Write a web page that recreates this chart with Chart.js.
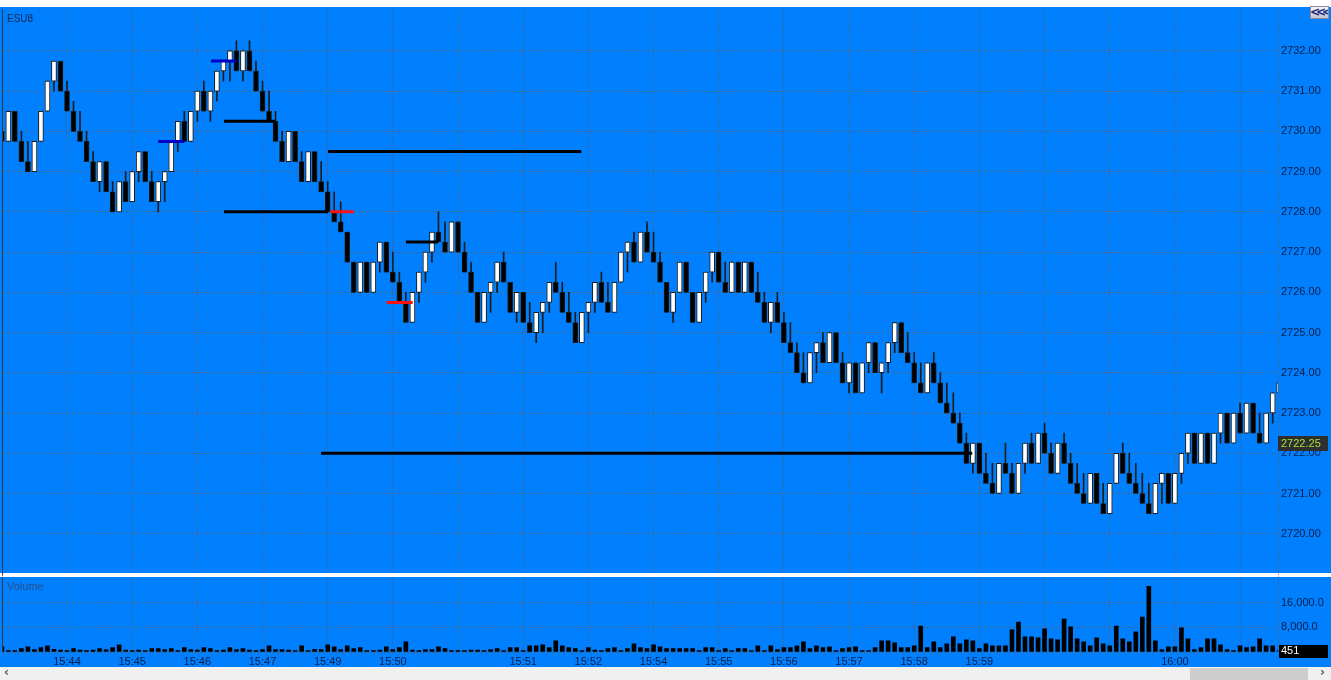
<!DOCTYPE html>
<html>
<head>
<meta charset="utf-8">
<script src="https://cdn.jsdelivr.net/npm/chart.js@4.4.0/dist/chart.umd.min.js"></script>
<style>
  html, body { margin: 0; padding: 0; background: #fff; }
  #wrap { position: relative; width: 1331px; height: 680px; overflow: hidden; }
  #chart { position: absolute; left: 0; top: 0; }
  #btn { position: absolute; left: 1310px; top: 6px; width: 19px; height: 13px; box-sizing: border-box;
         background: linear-gradient(#f6f6fa, #c4c4d2); border: 1px solid #8a8aa2; overflow: hidden;
         font: bold 12px/10px "DejaVu Sans", sans-serif; color: #1b2c7a; letter-spacing: -4px; text-indent: -1px; text-align: center; }
  #bar { position: absolute; left: 0; top: 667px; width: 1331px; height: 13px; background: #f0f0f0; }
  #thumb { position: absolute; left: 1190px; top: 1px; width: 118px; height: 12px; background: #cdcdcd; }
  .arr { position: absolute; top: -1px; font: bold 12px/13px "DejaVu Sans", sans-serif; color: #555; }
</style>
</head>
<body>
<div id="wrap">
  <canvas id="chart" width="1331" height="680"></canvas>
  <div id="btn">&lt;&lt;&lt;</div>
  <div id="bar"><span class="arr" style="left:4px">&lsaquo;</span><div id="thumb"></div><span class="arr" style="left:1320px">&rsaquo;</span></div>
</div>
<script>
/* ===== DATA ===== */
const symbol = "ESU8";
const lastPrice = 2722.25;
const lastVolume = 451;

const opens = [
  2730, 2729.75, 2730.5, 2729.75, 2729.25, 2729, 2729.75, 2730.5, 2731.25, 2731.75,
  2731, 2730.5, 2730, 2729.75, 2729.25, 2728.75, 2729.25, 2728.5, 2728, 2728.75,
  2728.25, 2729, 2729.5, 2728.75, 2728.25, 2728.75, 2729, 2729.75, 2730.25, 2729.75,
  2730.5, 2731, 2730.5, 2731, 2731.5, 2731.75, 2732, 2731.5, 2732, 2731.5,
  2731, 2730.5, 2730.25, 2729.75, 2729.25, 2730, 2729.25, 2728.75, 2729.5, 2728.75,
  2728.5, 2728, 2727.75, 2727.5, 2726.75, 2726, 2726.75, 2726, 2726.75, 2727.25,
  2726.5, 2726.25, 2725.75, 2725.25, 2726, 2726.5, 2727, 2727.5, 2727.25, 2727,
  2727.75, 2727, 2726.5, 2726, 2725.25, 2726, 2726.25, 2726.75, 2726.25, 2725.5,
  2726, 2725.25, 2725, 2725.5, 2725.75, 2726.25, 2726, 2725.5, 2725.25, 2724.75,
  2725.5, 2725.75, 2726.25, 2725.75, 2725.5, 2726.25, 2727, 2727.25, 2726.75, 2727.5,
  2727, 2726.75, 2726.25, 2725.5, 2726, 2726.75, 2726, 2725.25, 2726, 2726.5,
  2727, 2726.25, 2726, 2726.75, 2726, 2726.75, 2726, 2725.75, 2725.25, 2725.75,
  2725.25, 2724.75, 2724.5, 2724, 2723.75, 2724.5, 2724.75, 2724.25, 2725, 2724.25,
  2723.75, 2724.25, 2723.5, 2724.25, 2724.75, 2724, 2724.25, 2724.75, 2725.25, 2724.5,
  2724.25, 2723.75, 2723.5, 2724.25, 2723.75, 2723.25, 2723, 2722.75, 2722.25, 2721.75,
  2722.25, 2721.5, 2721.25, 2721, 2721.75, 2721.5, 2721, 2721.75, 2722.25, 2721.75,
  2722.5, 2722, 2721.5, 2722.25, 2721.75, 2721.25, 2721, 2720.75, 2721.5, 2720.75,
  2720.5, 2721.25, 2722, 2721.5, 2721.25, 2721, 2720.75, 2720.5, 2721.25, 2721.5,
  2720.75, 2721.5, 2722, 2722.5, 2721.75, 2722.5, 2721.75, 2722.5, 2723, 2722.25,
  2723, 2722.5, 2723.25, 2722.5, 2722.25, 2723, 2723.5
];
const highs = [
  2730, 2730.5, 2730.5, 2730, 2729.75, 2729.75, 2730.5, 2731.25, 2731.75, 2731.75,
  2731.25, 2730.75, 2730.5, 2730, 2729.5, 2729.25, 2729.25, 2728.75, 2728.75, 2729,
  2729, 2729.5, 2729.5, 2729, 2728.75, 2729, 2729.75, 2730.25, 2730.5, 2730.5,
  2731, 2731.25, 2731, 2731.5, 2731.75, 2732, 2732.25, 2732, 2732.25, 2731.75,
  2731.25, 2731, 2730.5, 2730, 2730, 2730, 2729.5, 2729.5, 2729.5, 2729.25,
  2728.75, 2728.5, 2728.25, 2727.5, 2726.75, 2726.75, 2726.75, 2726.75, 2727.25, 2727.25,
  2727, 2726.5, 2726, 2726, 2726.5, 2727, 2727.5, 2728, 2727.75, 2727.75,
  2727.75, 2727.25, 2726.75, 2726, 2726, 2726.25, 2726.75, 2727, 2726.25, 2726,
  2726, 2725.75, 2725.5, 2725.75, 2726.25, 2726.75, 2726.25, 2726, 2725.5, 2725.5,
  2725.75, 2726.25, 2726.5, 2726.25, 2726.25, 2727, 2727.25, 2727.5, 2727.5, 2727.75,
  2727.5, 2727, 2726.25, 2726, 2726.75, 2726.75, 2726, 2726, 2726.5, 2727,
  2727, 2726.75, 2726.75, 2726.75, 2726.75, 2726.75, 2726.5, 2726, 2725.75, 2726,
  2725.5, 2725.25, 2724.75, 2724.5, 2724.5, 2724.75, 2725, 2725, 2725, 2724.5,
  2724.25, 2724.25, 2724.25, 2724.75, 2724.75, 2724.25, 2724.75, 2725.25, 2725.25, 2725,
  2724.5, 2724.25, 2724.25, 2724.5, 2724, 2723.75, 2723.5, 2723, 2722.5, 2722.25,
  2722.25, 2722, 2721.75, 2721.75, 2722.25, 2721.75, 2721.75, 2722.25, 2722.5, 2722.5,
  2722.75, 2722.25, 2722.25, 2722.5, 2722, 2721.75, 2721.5, 2721.5, 2721.5, 2721.25,
  2721.25, 2722, 2722.25, 2722, 2721.75, 2721.5, 2721.25, 2721.25, 2721.5, 2721.5,
  2721.5, 2722, 2722.5, 2722.5, 2722.5, 2722.5, 2722.5, 2723, 2723, 2723,
  2723.25, 2723.25, 2723.25, 2723, 2723, 2723.5, 2723.75
];
const lows = [
  2729.75, 2729.75, 2729.75, 2729.25, 2729, 2729, 2729.75, 2730.5, 2731, 2731,
  2730.5, 2730, 2729.75, 2729.25, 2728.75, 2728.5, 2728.5, 2728, 2728, 2728.25,
  2728.25, 2728.75, 2728.75, 2728.25, 2728, 2728.25, 2729, 2729.5, 2729.75, 2729.75,
  2730.25, 2730.5, 2730.25, 2730.75, 2731.25, 2731.25, 2731.5, 2731.25, 2731.5, 2731,
  2730.5, 2730.25, 2729.75, 2729.25, 2729.25, 2729.25, 2728.75, 2728.75, 2728.75, 2728.5,
  2728, 2727.75, 2727.5, 2726.75, 2726, 2726, 2726, 2726, 2726.5, 2726.5,
  2726.25, 2725.75, 2725.25, 2725.25, 2725.75, 2726.25, 2726.75, 2727.25, 2727, 2727,
  2727, 2726.5, 2726, 2725.25, 2725.25, 2725.5, 2726, 2726.25, 2725.5, 2725.25,
  2725.25, 2725, 2724.75, 2725, 2725.5, 2726, 2725.5, 2725.25, 2724.75, 2724.75,
  2725, 2725.5, 2725.75, 2725.5, 2725.5, 2726.25, 2726.5, 2726.75, 2726.75, 2727,
  2726.75, 2726.25, 2725.5, 2725.25, 2726, 2726, 2725.25, 2725.25, 2725.75, 2726.25,
  2726.25, 2726, 2726, 2726, 2726, 2726, 2725.75, 2725.25, 2725, 2725.25,
  2724.75, 2724.5, 2724, 2723.75, 2723.75, 2724, 2724.25, 2724.25, 2724.25, 2723.75,
  2723.5, 2723.5, 2723.5, 2724, 2724, 2723.5, 2724, 2724.5, 2724.5, 2724.25,
  2723.75, 2723.5, 2723.5, 2723.75, 2723.25, 2723, 2722.75, 2722.25, 2721.75, 2721.5,
  2721.5, 2721.25, 2721, 2721, 2721.5, 2721, 2721, 2721.5, 2721.75, 2721.75,
  2722, 2721.5, 2721.5, 2721.75, 2721.25, 2721, 2720.75, 2720.75, 2720.75, 2720.5,
  2720.5, 2721.25, 2721.5, 2721.25, 2721, 2720.75, 2720.5, 2720.5, 2720.75, 2720.75,
  2720.75, 2721.25, 2721.75, 2721.75, 2721.75, 2721.75, 2721.75, 2722.25, 2722.25, 2722.25,
  2722.5, 2722.5, 2722.5, 2722.25, 2722.25, 2722.75, 2723.5
];
const closes = [
  2729.75, 2730.5, 2729.75, 2729.25, 2729, 2729.75, 2730.5, 2731.25, 2731.75, 2731,
  2730.5, 2730, 2729.75, 2729.25, 2728.75, 2729.25, 2728.5, 2728, 2728.75, 2728.25,
  2729, 2729.5, 2728.75, 2728.25, 2728.75, 2729, 2729.75, 2730.25, 2729.75, 2730.5,
  2731, 2730.5, 2731, 2731.5, 2731.75, 2732, 2731.5, 2732, 2731.5, 2731,
  2730.5, 2730.25, 2729.75, 2729.25, 2730, 2729.25, 2728.75, 2729.5, 2728.75, 2728.5,
  2728, 2727.75, 2727.5, 2726.75, 2726, 2726.75, 2726, 2726.75, 2727.25, 2726.5,
  2726.25, 2725.75, 2725.25, 2726, 2726.5, 2727, 2727.5, 2727.25, 2727, 2727.75,
  2727, 2726.5, 2726, 2725.25, 2726, 2726.25, 2726.75, 2726.25, 2725.5, 2726,
  2725.25, 2725, 2725.5, 2725.75, 2726.25, 2726, 2725.5, 2725.25, 2724.75, 2725.5,
  2725.75, 2726.25, 2725.75, 2725.5, 2726.25, 2727, 2727.25, 2726.75, 2727.5, 2727,
  2726.75, 2726.25, 2725.5, 2726, 2726.75, 2726, 2725.25, 2726, 2726.5, 2727,
  2726.25, 2726, 2726.75, 2726, 2726.75, 2726, 2725.75, 2725.25, 2725.75, 2725.25,
  2724.75, 2724.5, 2724, 2723.75, 2724.5, 2724.75, 2724.25, 2725, 2724.25, 2723.75,
  2724.25, 2723.5, 2724.25, 2724.75, 2724, 2724.25, 2724.75, 2725.25, 2724.5, 2724.25,
  2723.75, 2723.5, 2724.25, 2723.75, 2723.25, 2723, 2722.75, 2722.25, 2721.75, 2722.25,
  2721.5, 2721.25, 2721, 2721.75, 2721.5, 2721, 2721.75, 2722.25, 2721.75, 2722.5,
  2722, 2721.5, 2722.25, 2721.75, 2721.25, 2721, 2720.75, 2721.5, 2720.75, 2720.5,
  2721.25, 2722, 2721.5, 2721.25, 2721, 2720.75, 2720.5, 2721.25, 2721.5, 2720.75,
  2721.5, 2722, 2722.5, 2721.75, 2722.5, 2721.75, 2722.5, 2723, 2722.25, 2723,
  2722.5, 2723.25, 2722.5, 2722.25, 2723, 2723.5, 2723.75
];
const volumes = [
  1700, 430, 430, 1070, 1700, 750, 1390, 2030, 850, 640,
  430, 1070, 640, 430, 640, 1070, 750, 1390, 2350, 640,
  430, 640, 430, 1070, 1070, 750, 1070, 430, 1390, 750,
  640, 1390, 1070, 430, 640, 1390, 750, 1070, 640, 430,
  750, 2030, 750, 750, 640, 430, 2030, 430, 850, 750,
  2350, 1700, 750, 2030, 1070, 1390, 430, 430, 640, 1700,
  750, 1390, 3300, 640, 430, 750, 750, 1700, 1070, 430,
  430, 430, 640, 640, 430, 750, 1070, 430, 1390, 1390,
  430, 2030, 2030, 2350, 1390, 3600, 2030, 1390, 1070, 430,
  1390, 640, 430, 1070, 1390, 430, 1070, 2670, 1390, 1070,
  2350, 1700, 1070, 1070, 1070, 1070, 1070, 430, 1390, 1390,
  430, 1070, 430, 1070, 1070, 430, 2030, 430, 2030, 750,
  1390, 1390, 2030, 3300, 1070, 2030, 1390, 1700, 430, 1070,
  1390, 1700, 430, 430, 1390, 3600, 3600, 3000, 1390, 1390,
  2030, 8400, 1390, 3300, 1390, 2670, 4900, 2670, 3950, 3600,
  1070, 2670, 2030, 2030, 2030, 7150, 9700, 4900, 4900, 4600,
  7470, 4270, 3950, 10670, 8100, 4270, 3300, 2030, 4600, 2670,
  2030, 8400, 4270, 3300, 6500, 11300, 21200, 3600, 750, 1700,
  1700, 7800, 4270, 750, 1390, 4270, 4270, 2350, 750, 430,
  2030, 1390, 1700, 4270, 2030, 2030, 451
];

const timeTickBars = [10, 20, 30, 40, 50, 60, 70, 80, 90, 100, 110, 120, 130, 140, 150, 160, 170, 180, 190];
const timeTickLabels = ["15:44", "15:45", "15:46", "15:47", "15:49", "15:50", "", "15:51", "15:52", "15:54",
                        "15:55", "15:56", "15:57", "15:58", "15:59", "", "", "16:00", ""];
const priceTicks = [2720, 2721, 2722, 2723, 2724, 2725, 2726, 2727, 2728, 2729, 2730, 2731, 2732];
const volumeTicks = [0, 8000, 16000];

// drawn levels: [from bar, to bar, price]
const blackLevels = [[34.1, 41.9, 2730.25], [50.05, 88.9, 2729.5], [34.1, 50.05, 2728], [62.0, 66.9, 2727.25], [49.0, 148.9, 2722]];
const redLevels = [[50.4, 54.0, 2728], [59.06, 63.05, 2725.75]];
const blueLevels = [[24.0, 28.0, 2729.75], [32.1, 36.0, 2731.75]];

/* ===== STYLE ===== */
const BLUE = "#0080ff";
const GRID = "#6e5842";
const TEXT = "#0b1d44";
const FONT = '"Liberation Sans", Arial, sans-serif';
Chart.defaults.font.family = FONT;
Chart.defaults.font.size = 11;

const idx = opens.map((_, i) => i);

function levelSets(levels, color) {
  return levels.map(l => ({
    type: "line",
    data: [{ x: l[0], y: l[2] }, { x: l[1], y: l[2] }],
    borderColor: color,
    borderWidth: 3,
    pointRadius: 0,
    borderCapStyle: "butt",
    yAxisID: "y",
    order: 0
  }));
}

const backdrop = {
  id: "backdrop",
  beforeDraw(chart) {
    const c = chart.ctx;
    c.save();
    c.fillStyle = "#ffffff";
    c.fillRect(0, 0, chart.width, chart.height);
    c.fillStyle = BLUE;
    c.fillRect(0, 7, chart.width, 660);
    c.restore();
  },
  afterDraw(chart) {
    const c = chart.ctx, a = chart.chartArea;
    const ys = chart.scales.y, vs = chart.scales.yv;
    c.save();
    // pane separator
    c.fillStyle = "#ffffff";
    c.fillRect(0, 573, chart.width, 4);
    // left border
    c.fillStyle = "#3a3a3a";
    c.fillRect(a.left - 1, a.top, 1, 566);
    c.fillRect(a.left - 1, 577, 1, a.bottom - 577);
    // right dotted border
    c.strokeStyle = GRID;
    c.setLineDash([1, 2]);
    c.beginPath();
    c.moveTo(a.right + 0.5, a.top);
    c.lineTo(a.right + 0.5, a.bottom);
    c.stroke();
    c.setLineDash([]);
    // pane titles
    c.textBaseline = "middle";
    c.textAlign = "left";
    c.font = "10px " + FONT;
    c.fillStyle = "#16284f";
    c.fillText(symbol, 7, 19);
    c.font = "11px " + FONT;
    c.fillStyle = "#2b4f86";
    c.fillText("Volume", 7, 587);
    // volume axis labels
    c.fillStyle = TEXT;
    volumeTicks.filter(t => t > 0).forEach(t => {
      c.fillText(t.toLocaleString("en-US", { minimumFractionDigits: 1 }), a.right + 3, vs.getPixelForValue(t));
    });
    // last price box
    const py = ys.getPixelForValue(lastPrice);
    c.fillStyle = "#2f2f2f";
    c.fillRect(a.right, Math.round(py) - 7, 50, 15);
    c.fillStyle = "#a6e632";
    c.fillText(lastPrice.toFixed(2), a.right + 3, py + 0.5);
    // last volume box
    const vy = vs.getPixelForValue(lastVolume);
    c.fillStyle = "#000000";
    c.fillRect(a.right + 1, Math.round(vy) - 6, 49, 13);
    c.fillStyle = "#ffffff";
    c.fillText(String(lastVolume), a.right + 3, vy + 0.5);
    c.restore();
  }
};

const plotH = 645;

new Chart(document.getElementById("chart"), {
  type: "bar",
  data: {
    datasets: [
      ...levelSets(blackLevels, "#000000"),
      ...levelSets(redLevels, "#ff1010"),
      ...levelSets(blueLevels, "#0000c8"),
      {
        label: "body",
        data: idx.map(i => ({ x: i, y: [opens[i], closes[i]] })),
        backgroundColor: idx.map(i => closes[i] > opens[i] ? "#ffffff" : "#000000"),
        borderColor: "#1c1c1c",
        borderWidth: 1,
        borderSkipped: false,
        barThickness: 5,
        grouped: false,
        clip: 0,
        yAxisID: "y",
        order: 1
      },
      {
        label: "wick",
        data: idx.map(i => ({ x: i, y: [lows[i], highs[i]] })),
        backgroundColor: "#1c1c1c",
        borderWidth: 0,
        barThickness: 1,
        grouped: false,
        clip: 0,
        yAxisID: "y",
        order: 2
      },
      {
        label: "volume",
        data: idx.map(i => ({ x: i, y: volumes[i] })),
        backgroundColor: "#000000",
        borderWidth: 0,
        barThickness: 4,
        grouped: false,
        clip: 0,
        yAxisID: "yv",
        order: 1
      }
    ]
  },
  options: {
    responsive: false,
    animation: false,
    events: [],
    layout: { padding: { left: 3, top: 7, right: 0, bottom: 0 } },
    plugins: { legend: { display: false }, tooltip: { enabled: false } },
    scales: {
      x: {
        type: "linear",
        min: 0.18,
        max: 195.82,
        offset: false,
        grid: { color: GRID, drawTicks: false, offset: false },
        border: { display: false, dash: [1, 2] },
        afterBuildTicks: s => { s.ticks = timeTickBars.map(v => ({ value: v })); },
        afterFit: s => { s.height = 28; },
        ticks: {
          autoSkip: false, maxRotation: 0, padding: 3, color: TEXT,
          callback: v => timeTickLabels[timeTickBars.indexOf(v)] || ""
        }
      },
      y: {
        type: "linear",
        position: "right",
        min: 2717.06,
        max: 2733.027,
        beginAtZero: false,
        grid: { color: GRID, drawTicks: false },
        border: { display: false, dash: [1, 2] },
        afterBuildTicks: s => { s.ticks = priceTicks.map(v => ({ value: v })); },
        afterFit: s => { s.width = 53; },
        ticks: { padding: 3, color: TEXT, callback: v => v.toFixed(2) }
      },
      yv: {
        type: "linear",
        position: "right",
        min: 0,
        max: 8000 * plotH / 24.85,
        grid: { color: GRID, drawTicks: false },
        border: { display: false, dash: [1, 2] },
        afterBuildTicks: s => { s.ticks = volumeTicks.map(v => ({ value: v })); },
        afterFit: s => { s.width = 0; },
        ticks: { display: false }
      }
    }
  },
  plugins: [backdrop]
});
</script>
</body>
</html>
